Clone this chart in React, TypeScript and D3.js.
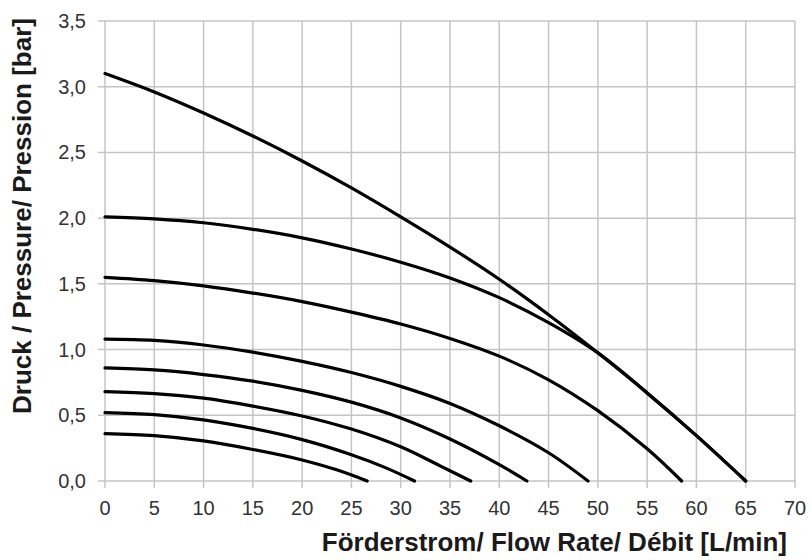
import { useEffect, useRef } from 'react';
import * as d3 from 'd3';

type Pt = [number, number];

// pump curves: [flow L/min, pressure bar]
const curve310: Pt[] = [[0, 3.1], [5, 2.96], [10, 2.8], [15, 2.625], [20, 2.435], [25, 2.23], [30, 2.01], [35, 1.78], [40, 1.535], [45, 1.265], [50, 0.975], [55, 0.67], [60, 0.345], [65, 0]];
const curve200: Pt[] = [[0, 2.01], [5, 1.995], [10, 1.965], [15, 1.915], [20, 1.85], [25, 1.765], [30, 1.665], [35, 1.545], [40, 1.395], [45, 1.205], [50, 0.975], [55, 0.67], [60, 0.345], [65, 0]];
const curve155: Pt[] = [[0, 1.55], [5, 1.525], [10, 1.485], [15, 1.43], [20, 1.365], [25, 1.285], [30, 1.195], [35, 1.085], [40, 0.95], [45, 0.77], [50, 0.535], [55, 0.245], [58.5, 0]];
const curve108: Pt[] = [[0, 1.08], [5, 1.07], [10, 1.035], [15, 0.98], [20, 0.91], [25, 0.825], [30, 0.72], [35, 0.59], [40, 0.42], [45, 0.215], [49, 0]];
const curve086: Pt[] = [[0, 0.86], [5, 0.845], [10, 0.81], [15, 0.76], [20, 0.69], [25, 0.6], [30, 0.48], [35, 0.32], [40, 0.125], [42.8, 0]];
const curve068: Pt[] = [[0, 0.68], [5, 0.665], [10, 0.63], [15, 0.57], [20, 0.495], [25, 0.395], [30, 0.26], [34, 0.115], [37.1, 0]];
const curve052: Pt[] = [[0, 0.52], [5, 0.505], [10, 0.465], [15, 0.4], [20, 0.315], [25, 0.2], [28.5, 0.1], [31.4, 0]];
const curve036: Pt[] = [[0, 0.36], [5, 0.345], [10, 0.305], [15, 0.24], [20, 0.16], [23.5, 0.085], [26.6, 0]];

const curves = [curve310, curve200, curve155, curve108, curve086, curve068, curve052, curve036];

const xTicks = d3.range(0, 71, 5);
const yTicks = [0, 0.5, 1, 1.5, 2, 2.5, 3, 3.5];

const xTitle = 'Förderstrom/ Flow Rate/ Débit [L/min]';
const yTitle = 'Druck / Pressure/ Pression [bar]';

export default function App() {
  const svgRef = useRef<SVGSVGElement | null>(null);

  useEffect(() => {
    const svg = svgRef.current;
    if (!svg) return;

    const width = 811;
    const height = 560;
    const margin = { top: 21, right: 16, bottom: 79, left: 105 };

    const x = d3.scaleLinear().domain([0, 70]).range([margin.left, width - margin.right]);
    const y = d3.scaleLinear().domain([0, 3.5]).range([height - margin.bottom, margin.top]);

    const root = d3.select(svg);
    root.selectAll('*').remove();
    root.append('rect').attr('width', width).attr('height', height).attr('fill', '#ffffff');

    const gridColor = '#c4c4c4';
    const font = 'Liberation Sans, Arial, sans-serif';

    // grid
    root
      .append('g')
      .selectAll('line')
      .data(xTicks)
      .join('line')
      .attr('x1', (d) => x(d))
      .attr('x2', (d) => x(d))
      .attr('y1', y(3.5))
      .attr('y2', y(0) + 7)
      .attr('stroke', gridColor)
      .attr('stroke-width', 1.5);

    root
      .append('g')
      .selectAll('line')
      .data(yTicks)
      .join('line')
      .attr('x1', x(0) - 7)
      .attr('x2', x(70))
      .attr('y1', (d) => y(d))
      .attr('y2', (d) => y(d))
      .attr('stroke', gridColor)
      .attr('stroke-width', 1.5);

    // tick labels
    root
      .append('g')
      .selectAll('text')
      .data(xTicks)
      .join('text')
      .attr('x', (d) => x(d))
      .attr('y', y(0) + 34)
      .attr('text-anchor', 'middle')
      .attr('font-family', font)
      .attr('font-size', 20)
      .attr('fill', '#333333')
      .text((d) => d);

    root
      .append('g')
      .selectAll('text')
      .data(yTicks)
      .join('text')
      .attr('x', x(0) - 19)
      .attr('y', (d) => y(d) + 7)
      .attr('text-anchor', 'end')
      .attr('font-family', font)
      .attr('font-size', 20)
      .attr('fill', '#333333')
      .text((d) => d3.format('.1f')(d).replace('.', ','));

    // curves
    const line = d3
      .line<Pt>()
      .x((d) => x(d[0]))
      .y((d) => y(d[1]))
      .curve(d3.curveCatmullRom.alpha(0.5));

    root
      .append('g')
      .selectAll('path')
      .data(curves)
      .join('path')
      .attr('d', (d) => line(d))
      .attr('fill', 'none')
      .attr('stroke', '#000000')
      .attr('stroke-width', 3.2)
      .attr('stroke-linecap', 'round');

    // titles
    root
      .append('text')
      .attr('x', 787)
      .attr('y', 551)
      .attr('text-anchor', 'end')
      .attr('font-family', font)
      .attr('font-weight', 'bold')
      .attr('font-size', 26)
      .attr('fill', '#1a1a1a')
      .text(xTitle);

    root
      .append('text')
      .attr('transform', `translate(31,216) rotate(-90)`)
      .attr('text-anchor', 'middle')
      .attr('font-family', font)
      .attr('font-weight', 'bold')
      .attr('font-size', 26)
      .attr('fill', '#1a1a1a')
      .text(yTitle);
  }, []);

  return <svg ref={svgRef} width={811} height={560} style={{ position: 'absolute', left: 0, top: 0 }} />;
}
